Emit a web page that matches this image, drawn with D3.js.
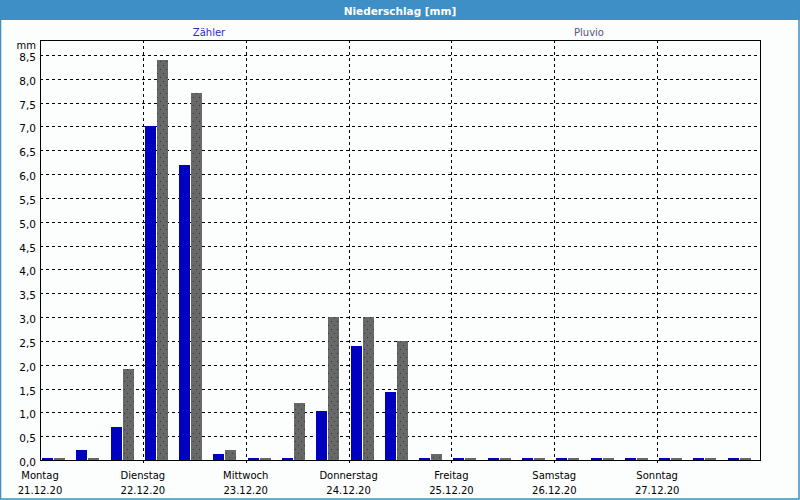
<!DOCTYPE html>
<html><head><meta charset="utf-8">
<script src="https://cdn.jsdelivr.net/npm/d3@7"></script>
<style>
html,body{margin:0;padding:0;background:#fff;}
svg{display:block;}
text{font-family:"DejaVu Sans",Verdana,sans-serif;}
</style></head>
<body>
<svg id="c" width="800" height="500"></svg>
<script>
const title = "Niederschlag [mm]";
const seriesNames = ["Zähler", "Pluvio"];
const dayNames = ["Montag","Dienstag","Mittwoch","Donnerstag","Freitag","Samstag","Sonntag"];
const dayDates = ["21.12.20","22.12.20","23.12.20","24.12.20","25.12.20","26.12.20","27.12.20"];
// 8-hour intervals, 3 per day
const zaehler = [0, 0.22, 0.7, 7.0, 6.2, 0.12, 0, 0, 1.02, 2.4, 1.42, 0, 0, 0, 0, 0, 0, 0, 0, 0, 0];
const pluvio  = [0, 0, 1.9, 8.4, 7.7, 0.22, 0, 1.2, 3.0, 3.0, 2.5, 0.13, 0, 0, 0, 0, 0, 0, 0, 0, 0];
const yTicks = [0,0.5,1,1.5,2,2.5,3,3.5,4,4.5,5,5.5,6,6.5,7,7.5,8,8.5];

const svg = d3.select("#c");
const W = 800, H = 500;
const L = 40, R = 760, T = 40, B = 460;

// background + window frame
svg.append("rect").attr("x",0).attr("y",0).attr("width",W).attr("height",H).attr("fill","#fcfdfd");
svg.append("rect").attr("x",0).attr("y",0).attr("width",W).attr("height",20).attr("fill","#3d8fc5");
svg.append("rect").attr("x",0.5).attr("y",0.5).attr("width",W-1.5).attr("height",H-1.5)
  .attr("fill","none").attr("stroke","#3d8fc5").attr("stroke-width",1.5);
svg.append("text").attr("x",W/2).attr("y",14.5).attr("text-anchor","middle")
  .attr("fill","#fff").attr("font-weight","bold").attr("font-size","10.5px").text(title);

// pattern for grey bars
const defs = svg.append("defs");
const pat = defs.append("pattern").attr("id","dots").attr("patternUnits","userSpaceOnUse")
  .attr("width",6).attr("height",8);
pat.append("rect").attr("width",6).attr("height",8).attr("fill","#686868");
pat.append("rect").attr("x",1).attr("y",1).attr("width",1).attr("height",1).attr("fill","#333");
pat.append("rect").attr("x",4).attr("y",5).attr("width",1).attr("height",1).attr("fill","#333");

const n = zaehler.length;
const x = d3.scaleLinear().domain([0, n]).range([L, R]);
const y = d3.scaleLinear().domain([0, 8.5]).range([B, 55]);

const g = svg.append("g").attr("shape-rendering","crispEdges");

// horizontal grid
g.selectAll("line.hg").data(yTicks.filter(v=>v>0)).join("line")
  .attr("x1",L).attr("x2",R).attr("y1",d=>Math.round(y(d))+0.5).attr("y2",d=>Math.round(y(d))+0.5)
  .attr("stroke","#000").attr("stroke-dasharray","3,3");
// vertical grid at day boundaries
const dayIdx = d3.range(1, 7);
g.selectAll("line.vg").data(dayIdx).join("line")
  .attr("x1",d=>Math.round(x(d*3))+0.5).attr("x2",d=>Math.round(x(d*3))+0.5)
  .attr("y1",T).attr("y2",B+3)
  .attr("stroke","#000").attr("stroke-dasharray","3,3");

// bars
const minH = 2;
g.selectAll("rect.z").data(zaehler).join("rect")
  .attr("x",(d,i)=>Math.round(x(i))+2).attr("width",11)
  .attr("y",d=>Math.min(y(d), B-minH)).attr("height",d=>Math.max(B-y(d), minH))
  .attr("fill","#0000c0");
g.selectAll("rect.p").data(pluvio).join("rect")
  .attr("x",(d,i)=>Math.round(x(i))+14).attr("width",11)
  .attr("y",d=>Math.min(y(d), B-minH)).attr("height",d=>Math.max(B-y(d), minH))
  .attr("fill","url(#dots)");

// frame
g.append("rect").attr("x",L+0.5).attr("y",T+0.5).attr("width",R-L).attr("height",B-T)
  .attr("fill","none").attr("stroke","#000");
// x ticks
g.selectAll("line.xt").data(dayIdx).join("line")
  .attr("x1",d=>Math.round(x(d*3))+0.5).attr("x2",d=>Math.round(x(d*3))+0.5)
  .attr("y1",B).attr("y2",B+3).attr("stroke","#000");

// y labels
svg.selectAll("text.yl").data(yTicks).join("text")
  .attr("x",36).attr("y",d=>y(d)+6).attr("text-anchor","end")
  .attr("font-size","10.5px").attr("fill","#000")
  .text(d=>d3.format(".1f")(d).replace(".", ","));
svg.append("text").attr("x",36).attr("y",49).attr("text-anchor","end")
  .attr("font-size","10px").attr("fill","#000").text("mm");

// day labels
svg.selectAll("text.dn").data(dayNames).join("text")
  .attr("x",(d,i)=>x(i*3)).attr("y",479).attr("text-anchor","middle")
  .attr("font-size","10px").attr("fill","#000").text(d=>d);
svg.selectAll("text.dd").data(dayDates).join("text")
  .attr("x",(d,i)=>x(i*3)).attr("y",494).attr("text-anchor","middle")
  .attr("font-size","10px").attr("fill","#000").text(d=>d);

// legend
const legX = [209, 589];
const legC = ["#2a2acc", "#55557a"];
svg.selectAll("text.lg").data(seriesNames).join("text")
  .attr("x",(d,i)=>legX[i]).attr("y",35.5).attr("text-anchor","middle")
  .attr("font-size","10px").attr("fill",(d,i)=>legC[i]).text(d=>d);
</script>
</body></html>
